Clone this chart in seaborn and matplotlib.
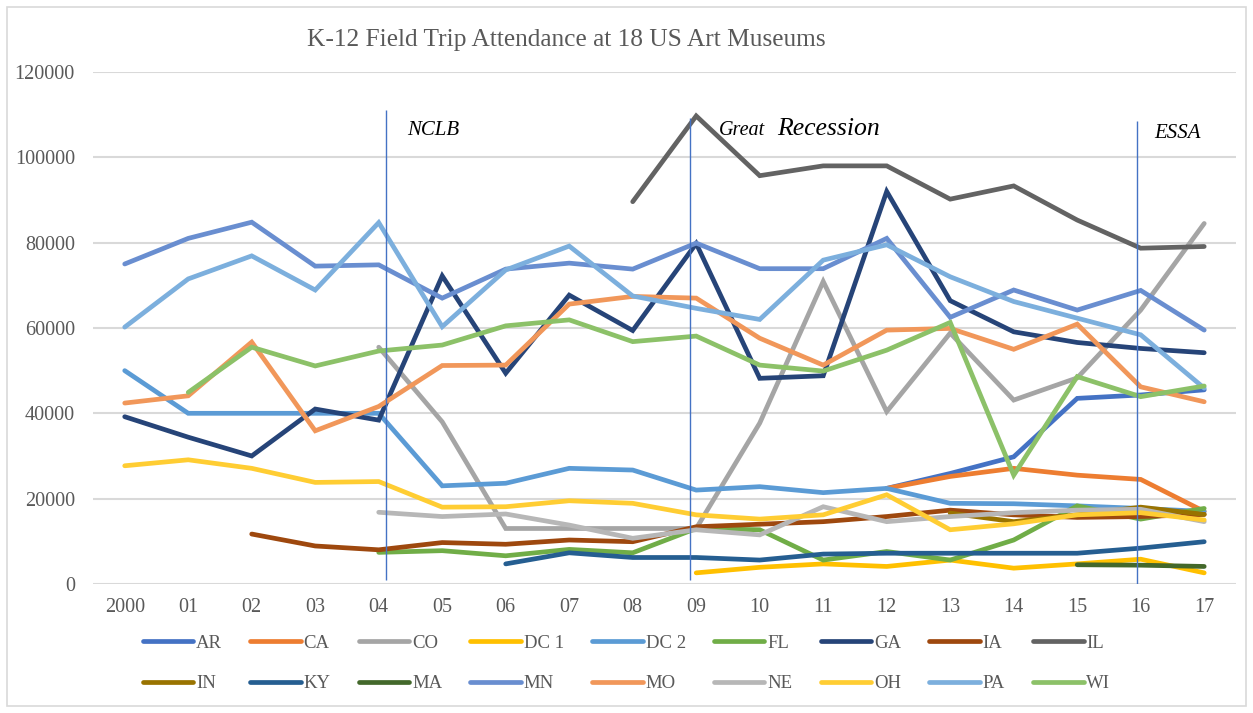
import matplotlib
matplotlib.use("Agg")
import matplotlib.pyplot as plt
from matplotlib.lines import Line2D
from matplotlib.patches import Rectangle
import pandas as pd
import seaborn as sns

# year labels on the x axis
years = ["2000", "01", "02", "03", "04", "05", "06", "07", "08",
         "09", "10", "11", "12", "13", "14", "15", "16", "17"]

# attendance per museum (None = no data that year)
AR = [None] * 12 + [22400, 25900, 29800, 43500, 44300, 45500]
CA = [None] * 12 + [22400, 25200, 27100, 25500, 24500, 17000]
CO = [None] * 4 + [55500, 38000, 13000, 13000, 13000, 13000, 37700, 70900,
                   40400, 58800, 43100, 48300, 64200, 84500]
DC1 = [None] * 9 + [2600, 3900, 4700, 4100, 5600, 3700, 4700, 5800, 2600]
DC2 = [50000, 40000, 40000, 40000, 40000, 23000, 23600, 27100, 26700,
       22000, 22800, 21400, 22400, 18900, 18800, 18300, 17700, 17000]
FL = [None] * 4 + [7400, 7800, 6600, 8100, 7300, 13000, 12700, 5600,
                   7600, 5600, 10300, 18300, 15200, 17700]
GA = [39200, 34400, 30000, 41000, 38400, 72200, 49400, 67700, 59400,
      79800, 48200, 48800, 92000, 66400, 59100, 56600, 55200, 54200]
IA = [None] * 2 + [11700, 8900, 8000, 9700, 9300, 10300, 9900, 13400,
                   14000, 14600, 15800, 17300, 16200, 15600, 15800, 16300]
IL = [None] * 8 + [89600, 109700, 95700, 98000, 98000, 90200, 93300,
                   85300, 78700, 79100]
IN = [None] * 13 + [16600, 14600, 16200, 18000, 16300]
KY = [None] * 6 + [4700, 7300, 6200, 6200, 5600, 7000, 7200, 7200, 7200,
                   7200, 8400, 9900]
MA = [None] * 15 + [4500, 4400, 4100]
MN = [75000, 81000, 84800, 74500, 74800, 67000, 73800, 75200, 73800,
      79900, 73900, 73900, 81000, 62500, 68900, 64200, 68800, 59500]
MO = [42400, 44100, 56700, 35900, 41600, 51200, 51300, 65600, 67400,
      67000, 57600, 51300, 59500, 59900, 55000, 60900, 46200, 42700]
NE = [None] * 4 + [16800, 15800, 16400, 13800, 10700, 12700, 11500, 18100,
                   14600, 15800, 16700, 17300, 17500, 14600]
OH = [27700, 29100, 27100, 23800, 24000, 18000, 18100, 19500, 18900,
      16200, 15200, 16200, 20900, 12700, 14100, 16200, 16700, 15000]
PA = [60200, 71500, 76900, 68900, 84700, 60300, 73600, 79200, 67500,
      64600, 62000, 75900, 79500, 72000, 66200, 62300, 58400, 45900]
WI = [None, 44900, 55500, 51100, 54600, 56000, 60500, 61900, 56800,
      58100, 51300, 49900, 54800, 61300, 25500, 48600, 43900, 46400]

museums = ["AR", "CA", "CO", "DC 1", "DC 2", "FL", "GA", "IA", "IL",
           "IN", "KY", "MA", "MN", "MO", "NE", "OH", "PA", "WI"]
series = [AR, CA, CO, DC1, DC2, FL, GA, IA, IL,
          IN, KY, MA, MN, MO, NE, OH, PA, WI]
colors = ["#4472C4", "#ED7D31", "#A5A5A5", "#FFC000", "#5B9BD5", "#70AD47",
          "#264478", "#9E480E", "#636363", "#997300", "#255E91", "#43682B",
          "#698ED0", "#F1975A", "#B7B7B7", "#FFCD33", "#7CAFDD", "#8CC168"]

rows = []
for name, vals in zip(museums, series):
    for i, v in enumerate(vals):
        if v is not None:
            rows.append({"year": i, "attendance": v, "museum": name})
df = pd.DataFrame(rows)

sns.set_theme(style="white")
plt.rcParams["font.family"] = ["Liberation Serif", "DejaVu Serif"]
grey = "#595959"

fig = plt.figure(figsize=(12.53, 7.13), dpi=100)
ax = fig.add_axes([0.0742, 0.181, 0.9122, 0.718])

sns.lineplot(data=df, x="year", y="attendance", hue="museum",
             hue_order=museums, palette=dict(zip(museums, colors)),
             estimator=None, linewidth=3.4, legend=False, ax=ax,
             solid_capstyle="round", solid_joinstyle="miter")

ax.set_xlim(-0.5, 17.5)
ax.set_ylim(0, 120000)
ax.set_xticks(range(len(years)))
ax.set_xticklabels(years)
yt = list(range(0, 120001, 20000))
ax.set_yticks(yt)
ax.set_yticklabels([str(v) for v in yt])
ax.tick_params(axis="y", length=0, pad=13, labelsize=14.5, labelcolor=grey)
ax.tick_params(axis="x", length=0, pad=10, labelsize=14.5, labelcolor=grey)
ax.set_xlabel("")
ax.set_ylabel("")
ax.set_axisbelow(True)
ax.yaxis.grid(True, color="#D9D9D9", linewidth=1.5)
ax.xaxis.grid(False)
for s in ax.spines.values():
    s.set_visible(False)

# policy markers
ax.vlines(4.11, 900, 111100, color="#4472C4", linewidth=1.0)
ax.vlines(8.90, 900, 109200, color="#4472C4", linewidth=1.0)
ax.vlines(15.94, 0, 108500, color="#4472C4", linewidth=1.0)
ax.text(4.44, 105200, "NCLB", style="italic", fontsize=15, color="black",
        va="baseline")
ax.text(9.36, 105200, "Great", style="italic", fontsize=14.5, color="black",
        va="baseline")
ax.text(10.27, 105200, "Recession", style="italic", fontsize=18.5,
        color="black", va="baseline")
ax.text(16.22, 104500, "ESSA", style="italic", fontsize=15, color="black",
        va="baseline")

fig.text(566 / 1253, 1 - 40 / 713, "K-12 Field Trip Attendance at 18 US Art Museums",
         ha="center", va="center", fontsize=18.3, color=grey)

# legend filled row by row (2 rows x 9 columns)
handles = [Line2D([], [], color=c, linewidth=3.4, solid_capstyle="round")
           for c in colors]
order = []
for col in range(9):
    order += [col, col + 9]
fig.legend([handles[i] for i in order], [museums[i] for i in order],
           ncol=9, loc="center", bbox_to_anchor=(0.5, 0.0694), frameon=False,
           fontsize=13.5, labelcolor=grey, handlelength=2.7, handletextpad=0.15,
           columnspacing=1.5, labelspacing=1.25)

fig.patches.append(Rectangle((7 / 1253, 7 / 713), 1239 / 1253, 699 / 713,
                             transform=fig.transFigure, fill=False,
                             edgecolor="#D9D9D9", linewidth=1.2))

fig.savefig("out.png", dpi=100)
